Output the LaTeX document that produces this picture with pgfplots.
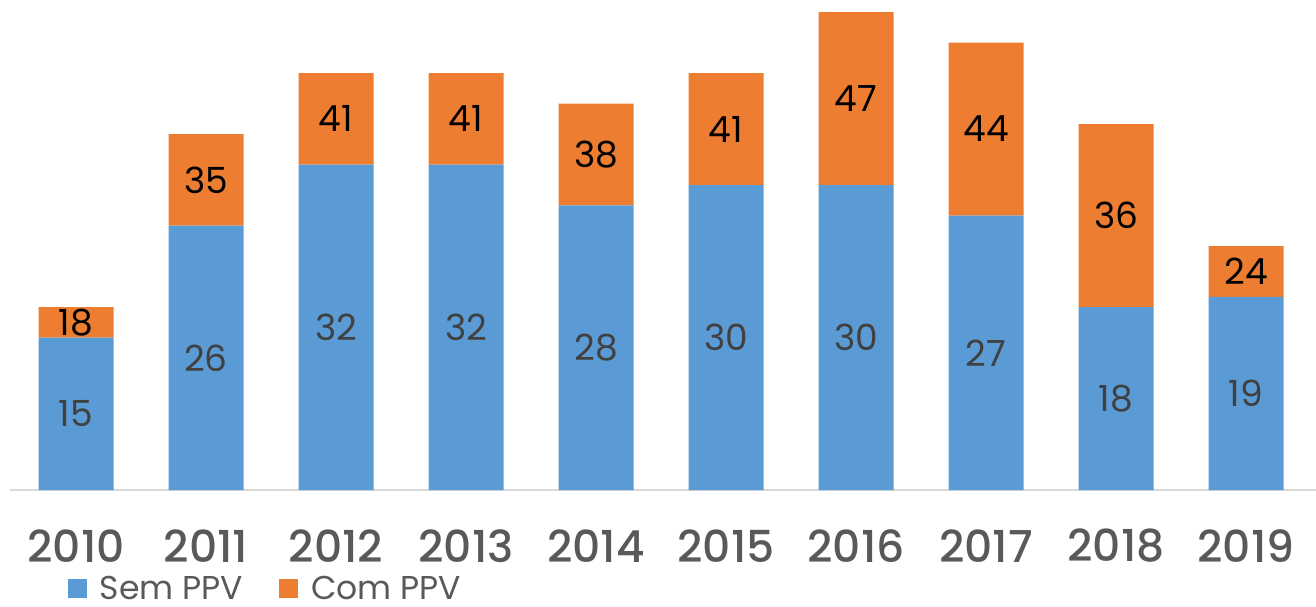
\documentclass[border=0pt]{standalone}
\usepackage{pgfplots}
\pgfplotsset{compat=1.18}
\usepackage{pgfplotstable}
\usepackage{fontspec}
\setmainfont{Poppins}
\newfontfamily\yearfont{Poppins Medium}

\definecolor{semppv}{HTML}{5B9BD5}
\definecolor{comppv}{HTML}{ED7D31}
\definecolor{txtgray}{HTML}{595959}
\definecolor{lblgray}{HTML}{404040}
\definecolor{axgray}{HTML}{D9D9D9}

% sem = sem PPV, com = com PPV (total)
\pgfplotstableread{
x sem com
0 15 18
1 26 35
2 32 41
3 32 41
4 28 38
5 30 41
6 30 47
7 27 44
8 18 36
9 19 24
}\data

\pgfplotsset{
  base/.style={
    at={(5pt,58pt)}, anchor=south west,
    width=653pt, height=245pt, scale only axis,
    xmin=-0.508, xmax=9.538,
    ymin=0, ymax=48.2,
  },
}

\begin{document}
\begin{tikzpicture}
\useasboundingbox (0,0) rectangle (658pt,303pt);

\begin{axis}[
  base,
  ybar stacked,
  bar width=37.5pt,
  axis x line*=bottom,
  axis y line=none,
  x axis line style={axgray, line width=1pt, -},
  xtick=data,
  xticklabels={2010,2011,2012,2013,2014,2015,2016,2017,2018,2019},
  xtick style={draw=none},
  xticklabel style={font=\yearfont\fontsize{22}{22}\selectfont, text=txtgray, anchor=center, yshift=-28pt},
  legend style={at={(axis description cs:0.0444,-0.2)}, anchor=west, draw=none, fill=none,
    inner sep=0pt, outer sep=0pt,
    nodes={inner sep=1pt, text depth=0pt},
    legend columns=2, font=\fontsize{16.5}{16.5}\selectfont, text=txtgray,
    /tikz/every even column/.append style={column sep=17pt}},
  legend image code/.code={\fill[#1] (0pt,-4.75pt) rectangle (9.5pt,4.75pt); \path (15pt,0pt);},
]
\addplot[fill=semppv, draw=none] table[x=x, y=sem] {\data};
\addlegendentry{Sem PPV}
\addplot[fill=comppv, draw=none] table[x=x, y expr=\thisrow{com}-\thisrow{sem}] {\data};
\addlegendentry{Com PPV}
\end{axis}

\begin{axis}[
  base,
  hide axis,
]
\addplot[draw=none, nodes near coords, point meta=explicit symbolic,
  every node near coord/.append style={anchor=center, text=lblgray, font=\fontsize{18}{18}\selectfont}]
  table[x=x, y expr=\thisrow{sem}/2, meta=sem] {\data};
\addplot[draw=none, nodes near coords, point meta=explicit symbolic,
  every node near coord/.append style={anchor=center, text=black, font=\fontsize{18}{18}\selectfont}]
  table[x=x, y expr=(\thisrow{sem}+\thisrow{com})/2, meta=com] {\data};
\end{axis}
\end{tikzpicture}
\end{document}
